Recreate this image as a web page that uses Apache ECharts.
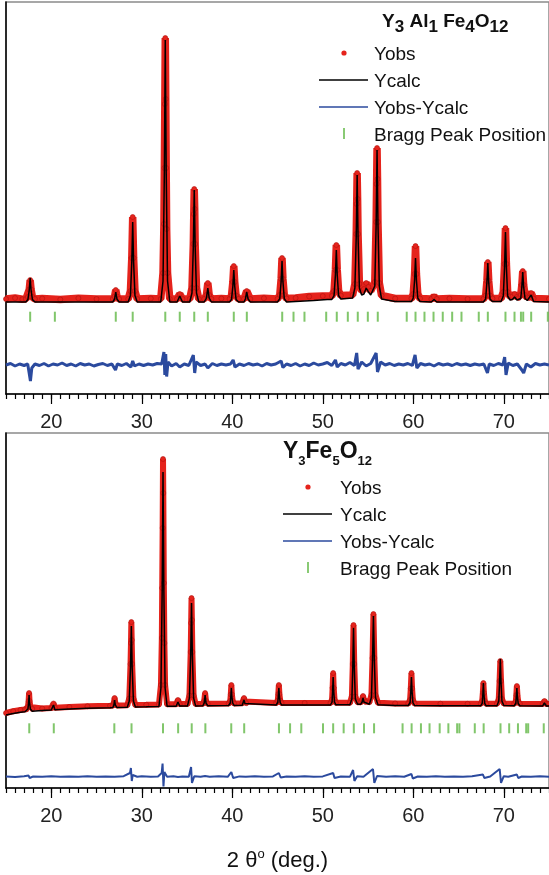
<!DOCTYPE html>
<html>
<head>
<meta charset="utf-8">
<script src="https://cdn.jsdelivr.net/npm/echarts@6/dist/echarts.min.js"></script>
<style>
  html, body { margin: 0; padding: 0; background: #fff; }
  #chart { width: 549px; height: 875px; }
</style>
</head>
<body>
<div id="chart"></div>
<script>
// 2θ axis labels (deg.)
var xTickLabels = [20, 30, 40, 50, 60, 70];

// ---- Y3 Al1 Fe4O12 (top panel), [2θ, intensity a.u.] ----
var topObs = [
  [15,950],[16,960],[16.8,948],[17.2,950],[17.42,970],[17.57,1045],[17.67,1140],[17.77,1045],[17.92,970],[18.2,950],
  [19,955],[21,945],[23,958],[25,950],[26.8,950],[27.0,975],[27.13,1040],[27.26,975],[27.5,950],
  [28.5,950],[28.75,1030],[28.9,1360],[29.0,1770],[29.1,1360],[29.25,1030],[29.5,950],[31,955],
  [32.1,950],[32.35,1210],[32.45,1700],[32.5,2260],[32.55,2900],[32.6,3560],[32.65,2950],[32.7,2260],[32.75,1650],[32.85,1210],[33.1,950],
  [33.9,950],[34.2,1000],[34.5,950],
  [35.3,950],[35.55,1060],[35.7,1500],[35.75,1800],[35.8,2050],[35.85,1850],[35.9,1500],[36.05,1060],[36.3,950],
  [36.9,950],[37.15,990],[37.3,1110],[37.45,990],[37.7,950],[38.8,955],
  [39.7,950],[39.92,985],[40.07,1120],[40.17,1280],[40.27,1120],[40.42,985],[40.7,950],
  [41.3,950],[41.6,1030],[42.0,950],[43.5,958],
  [45.0,950],[45.25,990],[45.4,1150],[45.5,1360],[45.6,1150],[45.75,990],[46.0,955],
  [47,960],[48.5,975],[50,980],
  [51.0,980],[51.25,1030],[51.4,1240],[51.5,1490],[51.6,1240],[51.75,1030],[52.0,985],
  [53.3,990],[53.55,1100],[53.7,1600],[53.75,1900],[53.8,2210],[53.85,1950],[53.9,1600],[54.05,1100],[54.3,1030],
  [54.55,1050],[54.8,1110],[55.05,1070],
  [55.3,1030],[55.75,1120],[55.9,1720],[55.95,2100],[56.0,2460],[56.05,2150],[56.1,1720],[56.25,1110],[56.5,985],
  [58,955],[59.8,955],[60.0,1000],[60.15,1200],[60.25,1480],[60.35,1200],[60.5,1000],[60.75,955],
  [62.0,950],[62.3,975],[62.6,950],[64,955],[66,950],
  [67.75,950],[68.0,985],[68.14,1130],[68.24,1320],[68.34,1130],[68.48,985],[68.75,955],
  [69.7,955],[69.95,1020],[70.09,1300],[70.19,1660],[70.29,1300],[70.43,1020],[70.7,975],
  [70.95,975],[71.2,1000],[71.45,970],
  [71.65,960],[71.88,990],[72.0,1090],[72.1,1230],[72.2,1090],[72.35,990],[72.6,965],
  [72.8,960],[73.03,1010],[73.3,955],[75,950]
];
var topCalc = [
  [15,920],[17.2,920],[17.42,944],[17.57,1040],[17.67,1160],[17.77,1040],[17.92,944],[18.2,920],
  [26.8,920],[27.0,950],[27.13,1020],[27.26,950],[27.5,920],
  [28.5,920],[28.75,984],[28.9,1320],[29.0,1720],[29.1,1320],[29.25,984],[29.5,920],
  [32.1,920],[32.35,1130],[32.5,2230],[32.6,3540],[32.7,2230],[32.85,1130],[33.1,920],
  [33.9,920],[34.2,980],[34.5,920],
  [35.3,920],[35.55,1010],[35.7,1480],[35.8,2040],[35.9,1480],[36.05,1010],[36.3,920],
  [36.9,920],[37.15,960],[37.3,1060],[37.45,960],[37.7,920],
  [39.7,920],[39.92,946],[40.07,1080],[40.17,1240],[40.27,1080],[40.42,946],[40.7,920],
  [41.3,920],[41.45,950],[41.6,1020],[41.75,950],[42.0,920],
  [45.0,920],[45.25,953],[45.4,1125],[45.5,1330],[45.6,1125],[45.75,953],[46.0,920],
  [47.0,925],[49.0,935],[50.5,945],
  [51.0,945],[51.25,985],[51.4,1190],[51.5,1440],[51.6,1190],[51.75,985],[52.0,950],
  [53.3,960],[53.55,1060],[53.7,1575],[53.8,2190],[53.9,1575],[54.05,1060],[54.3,990],
  [54.55,1000],[54.8,1060],[55.05,1020],
  [55.3,990],[55.75,1080],[55.9,1700],[56.0,2440],[56.1,1700],[56.25,1080],[56.5,950],
  [58,925],[59.8,925],[60.0,960],[60.15,1140],[60.25,1360],[60.35,1140],[60.5,960],[60.75,925],
  [62.0,920],[62.3,945],[62.6,920],
  [67.75,920],[68.0,951],[68.14,1115],[68.24,1310],[68.34,1115],[68.48,951],[68.75,925],
  [69.7,925],[69.95,980],[70.09,1270],[70.19,1620],[70.29,1270],[70.43,980],[70.7,940],
  [70.95,945],[71.2,970],[71.45,940],
  [71.65,930],[71.88,955],[72.0,1070],[72.1,1220],[72.2,1070],[72.35,955],[72.6,935],
  [72.8,930],[73.03,990],[73.3,925],[75,920]
];
var topDiff = [
  [15,290],[15.5,305],[16,280],[16.5,300],[17,285],[17.4,300],[17.6,320],[17.7,130],[17.85,260],[18.2,300],
  [18.7,285],[19.2,305],[19.7,280],[20.2,300],[20.7,290],[21.2,310],[21.7,285],[22.2,300],[22.7,280],[23.2,305],
  [23.7,290],[24.2,300],[24.7,280],[25.2,295],[25.7,305],[26.2,285],[26.7,300],[27.1,240],[27.3,300],[27.8,285],
  [28.3,305],[28.8,270],[29.0,330],[29.2,280],[29.7,300],[30.2,285],[30.7,300],[31.2,290],[31.7,305],[32.2,300],
  [32.45,420],[32.55,190],[32.65,400],[32.75,175],[32.9,320],[33.3,280],[33.8,305],[34.2,270],[34.7,300],[35.2,285],
  [35.7,390],[35.85,210],[36.0,320],[36.5,285],[37.0,300],[37.3,260],[37.8,305],[38.3,285],[38.8,300],[39.3,290],
  [39.8,300],[40.1,340],[40.3,270],[40.8,300],[41.3,285],[41.8,305],[42.3,290],[42.8,300],[43.3,280],[43.8,305],
  [44.3,290],[44.8,300],[45.4,330],[45.6,265],[46.0,300],[46.5,285],[47.0,305],[47.5,280],[48.0,300],[48.5,285],
  [49.0,310],[49.5,290],[50.0,300],[50.5,315],[51.0,285],[51.4,340],[51.6,270],[52.0,305],[52.5,290],[53.0,315],
  [53.5,285],[53.75,410],[53.9,250],[54.3,320],[54.8,280],[55.3,305],[55.9,410],[56.05,220],[56.4,320],[56.9,290],
  [57.4,305],[57.9,285],[58.4,300],[58.9,290],[59.4,305],[59.9,285],[60.2,390],[60.4,260],[60.8,305],[61.3,290],
  [61.8,300],[62.3,280],[62.8,305],[63.3,290],[63.8,300],[64.3,285],[64.8,305],[65.3,290],[65.8,300],[66.3,285],
  [66.8,300],[67.3,290],[67.8,300],[68.2,210],[68.4,300],[68.9,285],[69.4,305],[69.9,290],[70.1,370],[70.25,190],
  [70.5,310],[71.0,285],[71.5,300],[72.0,240],[72.2,210],[72.5,300],[73.0,270],[73.5,305],[74.0,290],[74.5,300],[75,290]
];
var topBragg = [17.67,20.4,27.13,29.0,32.6,34.2,35.8,37.3,40.17,41.61,45.52,46.77,47.98,50.38,51.55,52.77,53.87,54.98,56.08,
  59.28,60.25,61.24,62.24,63.26,64.3,65.33,67.24,68.24,70.19,71.19,71.9,72.15,73.03,74.87];

// ---- Y3Fe5O12 (bottom panel) ----
var botObs = [
  [15,750],[15.8,768],[16.6,780],[17.1,786],[17.25,786],[17.42,810],[17.5,870],[17.55,950],[17.6,870],[17.7,810],[17.9,790],
  [19,795],[20.0,800],[20.1,801],[20.25,845],[20.4,803],[22,810],[24,817],[26.5,823],
  [26.8,824],[26.92,850],[27.0,900],[27.08,850],[27.25,826],
  [28.4,828],[28.62,895],[28.76,1240],[28.81,1450],[28.85,1660],[28.89,1480],[28.94,1240],[29.08,895],[29.3,830],[30.5,832],
  [31.9,835],[32.12,1030],[32.22,1500],[32.26,2000],[32.31,2600],[32.35,3290],[32.38,2950],[32.44,2050],[32.5,1450],[32.58,1030],[32.8,837],
  [33.8,838],[34.0,880],[34.2,839],
  [35.05,840],[35.27,925],[35.41,1360],[35.46,1650],[35.5,1900],[35.54,1680],[35.59,1360],[35.73,925],[35.95,841],
  [36.75,842],[36.9,870],[37.0,950],[37.1,870],[37.28,843],
  [39.6,845],[39.78,870],[39.84,935],[39.9,1030],[39.96,935],[40.05,870],[40.2,846],
  [41.1,847],[41.2,865],[41.3,900],[41.4,865],[41.55,848],
  [44.85,850],[45.03,875],[45.09,940],[45.15,1030],[45.21,940],[45.3,875],[45.45,850],[48,850],
  [50.85,850],[51.03,885],[51.09,1000],[51.15,1150],[51.21,1000],[51.3,885],[51.45,852],
  [53.0,852],[53.22,915],[53.32,1240],[53.4,1630],[53.48,1240],[53.6,915],[53.85,858],
  [54.2,858],[54.35,880],[54.45,920],[54.55,880],[54.75,860],
  [55.15,858],[55.38,930],[55.5,1300],[55.6,1740],[55.7,1300],[55.83,930],[56.1,852],[58,846],
  [59.45,845],[59.65,880],[59.73,995],[59.8,1150],[59.87,995],[59.96,880],[60.15,845],[63,843],[66,842],
  [67.45,842],[67.62,870],[67.69,950],[67.75,1050],[67.81,950],[67.9,870],[68.05,842],
  [69.25,843],[69.45,890],[69.54,1070],[69.62,1270],[69.7,1070],[69.8,890],[70.0,846],
  [71.15,843],[71.33,865],[71.39,930],[71.45,1020],[71.51,930],[71.6,865],[71.78,843],
  [74.3,841],[74.5,870],[74.7,841],[75,840]
];
var botCalc = [
  [15,730],[15.8,745],[16.6,757],[17.1,763],[17.25,765],[17.42,790],[17.5,850],[17.55,930],[17.6,850],[17.7,790],[17.9,768],
  [19,775],[20.0,780],[20.1,781],[20.25,830],[20.4,782],[22,790],[24,797],[26.5,803],
  [26.8,804],[26.92,830],[27.0,880],[27.08,830],[27.25,806],
  [28.4,808],[28.62,870],[28.76,1210],[28.85,1620],[28.94,1210],[29.08,870],[29.3,810],[30.5,812],
  [31.9,815],[32.12,1000],[32.26,1990],[32.35,3160],[32.44,1990],[32.58,1000],[32.8,817],
  [33.8,818],[34.0,860],[34.2,819],
  [35.05,820],[35.27,900],[35.41,1335],[35.5,1850],[35.59,1335],[35.73,900],[35.95,821],
  [36.75,822],[36.9,850],[37.0,930],[37.1,850],[37.28,823],
  [39.6,825],[39.78,850],[39.84,912],[39.9,1000],[39.96,912],[40.05,850],[40.2,826],
  [41.1,827],[41.2,845],[41.3,880],[41.4,845],[41.55,828],
  [44.85,830],[45.03,855],[45.09,915],[45.15,1000],[45.21,915],[45.3,855],[45.45,830],[48,830],
  [50.85,830],[51.03,860],[51.09,970],[51.15,1110],[51.21,970],[51.3,860],[51.45,832],
  [53.0,832],[53.22,890],[53.32,1215],[53.4,1600],[53.48,1215],[53.6,890],[53.85,838],
  [54.2,838],[54.35,860],[54.45,900],[54.55,860],[54.75,840],
  [55.15,838],[55.38,905],[55.5,1280],[55.6,1720],[55.7,1280],[55.83,905],[56.1,832],[58,826],
  [59.45,825],[59.65,855],[59.73,965],[59.8,1110],[59.87,965],[59.96,855],[60.15,825],[63,823],[66,822],
  [67.45,822],[67.62,847],[67.69,935],[67.75,1050],[67.81,935],[67.9,847],[68.05,822],
  [69.25,823],[69.45,870],[69.54,1055],[69.62,1290],[69.7,1055],[69.8,870],[70.0,826],
  [71.15,823],[71.33,845],[71.39,910],[71.45,1000],[71.51,910],[71.6,845],[71.78,823],
  [74.3,821],[74.5,850],[74.7,821],[75,820]
];
var botDiff = [
  [15,115],[16,110],[17,118],[17.5,125],[17.6,100],[18,115],[19,112],[20,118],[21,112],[22,116],[23,112],[24,117],
  [25,112],[26,116],[27,112],[28,118],[28.7,150],[28.8,200],[28.9,70],[29.0,130],[29.5,112],[30,117],[31,112],[31.8,116],
  [32.2,150],[32.3,245],[32.4,15],[32.5,160],[32.8,112],[33.5,117],[34,110],[34.5,116],[35.2,112],[35.45,210],[35.55,50],
  [35.8,118],[36.5,112],[37,120],[37.5,112],[38.5,117],[39.5,112],[39.9,160],[40.1,100],[40.8,116],[41.5,112],[42.5,117],
  [43.5,112],[44.5,116],[45.15,150],[45.35,105],[46,115],[47,112],[48,117],[49,112],[50,116],[51.15,150],[51.3,100],
  [52,115],[53,112],[53.35,180],[53.5,70],[53.8,118],[54.5,112],[55.55,190],[55.7,50],[56,120],[57,112],[58,117],
  [59,112],[59.8,140],[59.95,95],[60.5,115],[61.5,112],[62.5,117],[63.5,112],[64.5,116],[65.5,112],[66.5,117],
  [67.7,135],[67.85,100],[68.5,115],[69.55,190],[69.7,50],[70,118],[70.5,112],[71.45,135],[71.6,100],[72,115],
  [73,112],[74,117],[75,113]
];
var botBragg = [17.57,20.28,26.97,28.87,32.35,34.02,35.52,37.03,39.89,41.32,45.16,46.39,47.63,50.03,51.15,52.31,53.43,54.56,55.67,
  58.82,59.82,60.85,61.8,62.92,63.88,64.85,65.1,66.8,67.78,69.64,70.6,71.57,72.48,72.7,74.42];

var topBraggLevel = 773;
var botBraggLevel = 597;

var FONT = '"Liberation Sans", Arial, sans-serif';
var RED = '#e5231c', BLUE = '#2b4a9e', GREEN = '#62b846';
var GRID_H = [392, 355];

var chart = echarts.init(document.getElementById('chart'));

// bottom axis: 1 deg ticks + labels
function minorAxis(g) {
  return {
    type: 'value', gridIndex: g, position: 'bottom', min: 15, max: 75, interval: 1,
    axisLine: { show: true, onZero: false, lineStyle: { color: '#000', width: 1.5 } },
    axisTick: { show: true, length: 5, lineStyle: { color: '#000', width: 1.2 } },
    axisLabel: { show: true, customValues: xTickLabels, fontSize: 20, color: '#222', margin: 18, fontFamily: FONT },
    splitLine: { show: false }
  };
}
// long ticks every 10 deg, moved down onto the bottom line
function majorAxis(g) {
  return {
    type: 'value', gridIndex: g, position: 'top', offset: -GRID_H[g], min: 15, max: 75,
    axisLine: { show: false, onZero: false },
    axisTick: { show: true, inside: true, length: 10, customValues: xTickLabels, lineStyle: { color: '#000', width: 1.2 } },
    axisLabel: { show: false }, splitLine: { show: false }
  };
}
function yAx(g, max) {
  return {
    type: 'value', gridIndex: g, min: 0, max: max,
    axisLine: { show: true, onZero: false, lineStyle: { color: '#000', width: 1.5 } },
    axisTick: { show: false }, axisLabel: { show: false }, splitLine: { show: false }
  };
}

var bottomMinor = minorAxis(1);
bottomMinor.name = '{a|2 θ}{s|o}{a| (deg.)}';
bottomMinor.nameLocation = 'middle';
bottomMinor.nameGap = 60;
bottomMinor.nameTextStyle = {
  rich: {
    a: { fontSize: 22, fontFamily: FONT, color: '#111' },
    s: { fontSize: 13, fontFamily: FONT, color: '#111', padding: [0, 0, 12, 0] }
  }
};

function obsSeries(xi, yi, data, w) {
  return {
    type: 'line', xAxisIndex: xi, yAxisIndex: yi, data: data, z: 2,
    symbol: 'circle', symbolSize: 5, showSymbol: true,
    itemStyle: { color: RED, borderColor: '#b0120e', borderWidth: 0.6 },
    lineStyle: { color: RED, width: w }
  };
}
function calcSeries(xi, yi, data) {
  return {
    type: 'line', xAxisIndex: xi, yAxisIndex: yi, data: data, z: 3, symbol: 'none',
    lineStyle: { color: '#000', width: 1.5 }
  };
}
function diffSeries(xi, yi, data, w) {
  return {
    type: 'line', xAxisIndex: xi, yAxisIndex: yi, data: data, z: 3, symbol: 'none',
    lineStyle: { color: BLUE, width: w }
  };
}
function braggSeries(xi, yi, pos, level) {
  return {
    type: 'scatter', xAxisIndex: xi, yAxisIndex: yi, z: 3,
    data: pos.map(function (p) { return [p, level]; }),
    symbol: 'rect', symbolSize: [2, 10], itemStyle: { color: GREEN }
  };
}

// legend drawn as graphic items
function legendItems(mx, tx, y0, gap) {
  var t = function (txt, y) {
    return { type: 'text', x: tx, y: y, style: { text: txt, fontSize: 19, fontFamily: FONT, fill: '#111', verticalAlign: 'middle' } };
  };
  return [
    { type: 'circle', shape: { cx: mx, cy: y0 - 2, r: 2.6 }, style: { fill: RED } },
    t('Yobs', y0),
    { type: 'line', shape: { x1: mx - 25, y1: y0 + gap - 2, x2: mx + 24, y2: y0 + gap - 2 }, style: { stroke: '#000', lineWidth: 1.5 } },
    t('Ycalc', y0 + gap),
    { type: 'line', shape: { x1: mx - 25, y1: y0 + 2 * gap - 2, x2: mx + 24, y2: y0 + 2 * gap - 2 }, style: { stroke: BLUE, lineWidth: 1.5 } },
    t('Yobs-Ycalc', y0 + 2 * gap),
    { type: 'line', shape: { x1: mx, y1: y0 + 3 * gap - 8, x2: mx, y2: y0 + 3 * gap + 3 }, style: { stroke: GREEN, lineWidth: 1.5 } },
    t('Bragg Peak Position', y0 + 3 * gap)
  ];
}

var titleRich = function (big, small, drop) {
  return {
    m: { fontSize: big, fontWeight: 'bold', fontFamily: FONT, fill: '#111', padding: [0, 0, drop, 0] },
    s: { fontSize: small, fontWeight: 'bold', fontFamily: FONT, fill: '#111', padding: [drop, 0, 0, 0] }
  };
};

var option = {
  animation: false,
  backgroundColor: '#fff',
  grid: [
    { left: 6, right: 0, top: 2, height: GRID_H[0], outerBoundsMode: 'none', containLabel: false,
      show: true, borderColor: '#8a8a8a', borderWidth: 1.5 },
    { left: 6, right: 0, top: 433, height: GRID_H[1], outerBoundsMode: 'none', containLabel: false,
      show: true, borderColor: '#8a8a8a', borderWidth: 1.5 }
  ],
  xAxis: [minorAxis(0), majorAxis(0), bottomMinor, majorAxis(1)],
  yAxis: [yAx(0, 3920), yAx(1, 3550)],
  series: [
    obsSeries(0, 0, topObs, 7.5),
    calcSeries(0, 0, topCalc),
    diffSeries(0, 0, topDiff, 3),
    braggSeries(0, 0, topBragg, topBraggLevel),
    obsSeries(2, 1, botObs, 6),
    calcSeries(2, 1, botCalc),
    diffSeries(2, 1, botDiff, 2),
    braggSeries(2, 1, botBragg, botBraggLevel)
  ],
  graphic: [
    { type: 'text', x: 382, y: 12, style: { text: '{m|Y}{s|3}{m| Al}{s|1}{m| Fe}{s|4}{m|O}{s|12}', rich: titleRich(19, 17, 6) } },
    { type: 'text', x: 283, y: 440, style: { text: '{m|Y}{s|3}{m|Fe}{s|5}{m|O}{s|12}', rich: titleRich(23, 13, 10) } }
  ].concat(legendItems(344, 374, 55, 27)).concat(legendItems(308, 340, 489, 27))
};

chart.setOption(option);
</script>
</body>
</html>
